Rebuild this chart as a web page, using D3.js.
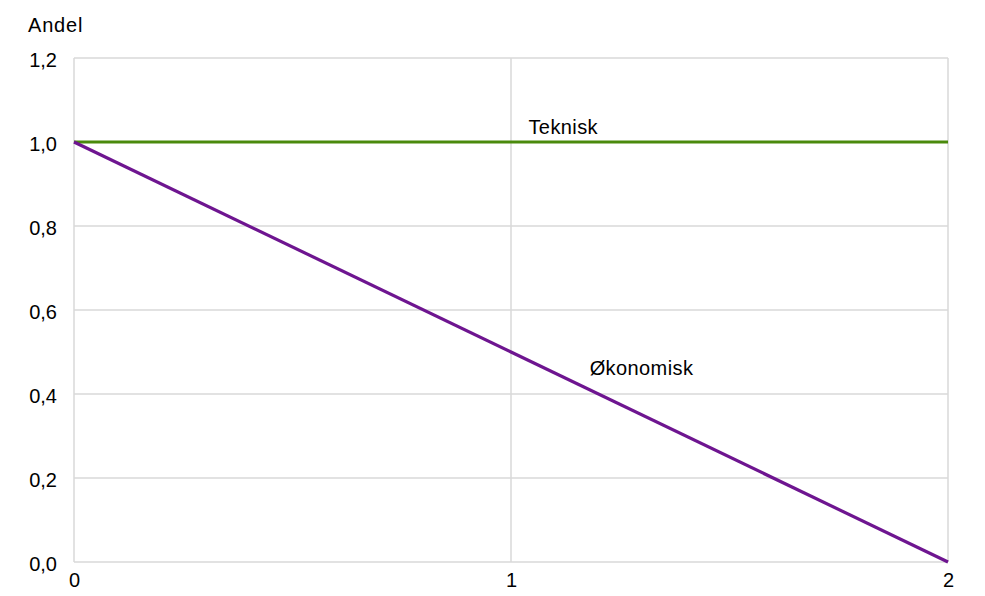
<!DOCTYPE html>
<html><head><meta charset="utf-8">
<script src="https://cdn.jsdelivr.net/npm/d3@7"></script>
<style>body{margin:0;background:#fff}svg{display:block;font-family:"Liberation Sans",Arial,sans-serif}</style>
</head><body><svg id="c" width="985" height="596"></svg>
<script>
const xValues = [0, 1, 2];
const teknisk = [1.0, 1.0, 1.0];
const okonomisk = [1.0, 0.5, 0.0];
const yTicks = [0, 0.2, 0.4, 0.6, 0.8, 1.0, 1.2];
const xTicks = [0, 1, 2];
const seriesNames = ["Teknisk", "Økonomisk"];
const yTitle = "Andel";

const svg = d3.select("#c");
const m = {l: 74, r: 985 - 948, t: 58, b: 596 - 562};
const W = 985, H = 596;
const FS = 20;
const x = d3.scaleLinear().domain([0, 2]).range([m.l, W - m.r]);
const y = d3.scaleLinear().domain([0, 1.2]).range([H - m.b, m.t]);
const fmt = d => d3.format(".1f")(d).replace(".", ",");
const grid = "#d9d9d9";

svg.append("g").selectAll("line").data(yTicks).join("line")
  .attr("x1", x(0)).attr("x2", x(2)).attr("y1", d => y(d)).attr("y2", d => y(d))
  .attr("stroke", grid).attr("stroke-width", 1.5);
svg.append("g").selectAll("line").data(xTicks).join("line")
  .attr("x1", d => x(d)).attr("x2", d => x(d)).attr("y1", y(0)).attr("y2", y(1.2))
  .attr("stroke", grid).attr("stroke-width", 1.5);

const yAxis = d3.axisLeft(y).tickValues(yTicks).tickFormat(fmt).tickSize(0).tickPadding(17);
const ga = svg.append("g").attr("transform", `translate(${x(0)},0)`).call(yAxis);
ga.select(".domain").remove();
ga.selectAll("text").attr("font-size", FS).attr("fill", "#000").attr("dy", "0.42em")
  .attr("font-family", "Liberation Sans, Arial, sans-serif");

const xAxis = d3.axisBottom(x).tickValues(xTicks).tickFormat(d3.format("d")).tickSize(0).tickPadding(11);
const gx = svg.append("g").attr("transform", `translate(0,${y(0)})`).call(xAxis);
gx.select(".domain").remove();
gx.selectAll("text").attr("font-size", FS).attr("fill", "#000")
  .attr("font-family", "Liberation Sans, Arial, sans-serif");

svg.append("text").attr("x", 28).attr("y", 32).attr("font-size", FS).attr("letter-spacing", 0.8)
  .attr("fill", "#000").text(yTitle);

const line = d3.line().x((d, i) => x(xValues[i])).y(d => y(d));
svg.append("path").datum(teknisk).attr("d", line).attr("fill", "none")
  .attr("stroke", "#4a8a0c").attr("stroke-width", 3.2);
svg.append("path").datum(okonomisk).attr("d", line).attr("fill", "none")
  .attr("stroke", "#6e1590").attr("stroke-width", 3.2);

svg.append("text").attr("x", x(1.04)).attr("y", y(1.0) - 8).attr("font-size", FS).attr("letter-spacing", 0.4)
  .attr("fill", "#000").text(seriesNames[0]);
svg.append("text").attr("x", x(1.18)).attr("y", y(0.446)).attr("font-size", FS).attr("letter-spacing", 0.4)
  .attr("fill", "#000").text(seriesNames[1]);
</script></body></html>
